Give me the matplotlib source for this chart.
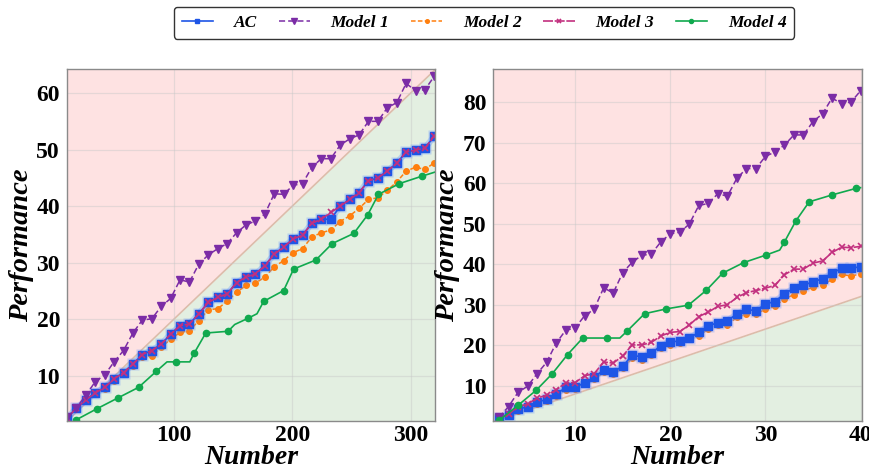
import numpy as np
import matplotlib.pyplot as plt

plt.rcParams['font.family'] = ['Liberation Serif', 'DejaVu Serif']
plt.rcParams['font.weight'] = 'bold'

# ---------- datos: panel izquierdo ----------
x_izq = np.linspace(10, 320, 40)
ac_izq = [2.6, 4.3, 5.8, 7.0, 8.0, 9.5, 10.6, 12.1, 13.8, 14.5,
          15.6, 17.4, 18.9, 19.2, 21.0, 23.0, 23.9, 24.5, 26.5, 27.5,
          28.0, 29.5, 31.5, 32.8, 34.2, 34.9, 37.0, 37.7, 37.7, 40.0,
          41.2, 42.4, 44.5, 45.0, 46.2, 47.6, 49.6, 49.9, 50.3, 52.4]
m1_izq = [2.7, 4.4, 6.6, 9.0, 10.2, 12.5, 14.5, 17.6, 19.9, 20.1,
          22.3, 23.7, 27.0, 26.6, 29.8, 31.4, 32.5, 33.4, 35.3, 36.7,
          37.4, 38.6, 42.2, 42.1, 43.7, 44.0, 46.9, 48.4, 48.4, 50.8,
          51.9, 52.6, 55.0, 55.0, 57.4, 58.3, 61.7, 60.4, 60.6, 63.0]
m2_izq = [2.6, 4.2, 5.6, 6.9, 7.7, 9.2, 10.3, 11.8, 13.4, 13.6,
          15.1, 16.5, 17.7, 18.0, 19.8, 21.7, 21.9, 23.2, 24.8, 26.0,
          26.4, 27.5, 29.3, 30.4, 31.8, 32.5, 34.6, 35.3, 35.8, 37.3,
          38.3, 39.6, 41.2, 41.5, 42.8, 44.3, 46.2, 46.9, 46.5, 47.7]
m3_izq = [2.6, 4.3, 5.8, 7.0, 8.0, 9.5, 10.6, 12.1, 13.8, 14.5,
          15.6, 17.4, 18.9, 19.2, 21.0, 23.0, 23.9, 24.5, 26.5, 27.5,
          28.0, 29.5, 31.5, 32.8, 34.2, 34.9, 37.0, 37.7, 38.9, 40.0,
          41.2, 42.4, 44.5, 45.0, 46.2, 47.6, 49.6, 49.9, 50.3, 52.4]
m4_x_izq = [17.2, 35.1, 52.7, 70.4, 85.2, 94.4, 101.7, 113.6, 117.2, 127.1,
            145.9, 151.5, 162.7, 170.3, 176.0, 192.8, 201.2, 220.0, 233.8, 252.0,
            263.8, 272.8, 290.5, 309.3, 320.0]
m4_izq = [2.2, 4.2, 6.1, 8.0, 10.8, 12.5, 12.5, 12.5, 14.0, 17.6,
          17.9, 19.1, 20.2, 21.0, 23.2, 25.1, 28.9, 30.5, 33.4, 35.2,
          38.5, 42.1, 44.0, 45.3, 46.0]
m4_marcas_izq = [0, 1, 2, 3, 4, 6, 8, 9, 10, 12, 14, 15, 16, 17, 18, 19, 20, 21, 22, 23]

# ---------- datos: panel derecho ----------
x_der = np.arange(2, 41)
ac_der = [2.0, 2.9, 4.2, 4.9, 5.9, 6.7, 7.9, 9.6, 9.6, 10.8,
          12.1, 13.9, 13.5, 14.8, 17.6, 17.1, 18.0, 19.9, 20.8, 21.1,
          21.8, 23.2, 24.8, 25.6, 26.1, 27.7, 28.9, 28.5, 30.2, 30.8,
          32.7, 34.1, 34.8, 35.7, 36.4, 37.8, 39.0, 39.0, 39.4]
m1_der = [2.2, 4.9, 8.4, 9.9, 13.0, 15.8, 20.5, 23.7, 24.3, 27.3,
          28.9, 34.2, 32.9, 37.9, 40.5, 42.2, 42.5, 45.5, 47.5, 47.9,
          49.9, 54.5, 55.0, 57.4, 56.8, 61.2, 63.6, 63.6, 66.6, 67.7,
          69.4, 71.9, 71.9, 75.2, 77.1, 81.0, 79.6, 80.0, 82.8]
m2_der = [1.9, 2.7, 3.9, 4.6, 5.5, 6.3, 7.5, 9.1, 9.2, 10.4,
          11.6, 13.3, 13.0, 14.3, 16.9, 16.4, 17.5, 19.3, 20.1, 20.5,
          21.5, 22.4, 24.0, 25.0, 25.0, 26.9, 27.7, 27.7, 28.9, 29.6,
          31.5, 32.5, 33.5, 34.3, 34.8, 36.3, 37.5, 37.1, 37.6]
m3_der = [2.0, 3.0, 4.9, 5.5, 7.0, 7.7, 9.0, 10.7, 10.8, 12.5,
          13.0, 15.9, 15.6, 17.4, 20.1, 20.1, 20.7, 22.3, 23.2, 23.4,
          25.0, 27.1, 28.2, 29.6, 30.0, 31.8, 33.0, 33.5, 34.1, 34.8,
          37.4, 38.8, 38.8, 40.3, 40.8, 42.9, 44.2, 44.1, 44.4]
m4_x_der = [2.0, 4.0, 5.9, 7.6, 9.2, 10.8, 13.3, 14.7, 15.5, 17.3,
            19.6, 21.9, 23.8, 25.5, 27.7, 30.1, 31.5, 32.0, 33.2, 34.6,
            37.0, 39.5, 40.0]
m4_der = [1.5, 5.2, 8.9, 13.0, 17.7, 21.8, 21.8, 21.8, 23.6, 27.8,
          29.0, 29.9, 33.6, 37.8, 40.4, 42.3, 43.5, 45.5, 50.7, 55.4,
          57.1, 58.7, 58.9]
m4_marcas_der = [0, 1, 2, 3, 4, 5, 6, 8, 9, 10, 11, 12, 13, 14, 15, 17, 18, 19, 20, 21]

# pendiente de la frontera y limites de cada panel
pendiente = [0.2, 0.8]
lim_x = [(10, 320.5), (1.4, 40.15)]
lim_y = [(2.1, 64.2), (1.4, 88.1)]
ticks_x = [[100, 200, 300], [10, 20, 30, 40]]
ticks_y = [[10, 20, 30, 40, 50, 60], [10, 20, 30, 40, 50, 60, 70, 80]]

fig = plt.figure(figsize=(8.7, 4.68), dpi=100)
ax1 = fig.add_axes([0.077, 0.101, 0.423, 0.751])
ax2 = fig.add_axes([0.567, 0.101, 0.4238, 0.751])

paneles = [
    (ax1, x_izq, ac_izq, m1_izq, m2_izq, m3_izq, m4_x_izq, m4_izq, m4_marcas_izq),
    (ax2, x_der, ac_der, m1_der, m2_der, m3_der, m4_x_der, m4_der, m4_marcas_der),
]

for i, (ax, x, ac, m1, m2, m3, x4, m4, marcas4) in enumerate(paneles):
    x0, x1 = lim_x[i]
    y0, y1 = lim_y[i]
    xs = np.array([x0, x1])
    frontera = pendiente[i] * xs
    # regiones de fondo
    ax.fill_between(xs, y0, frontera, color='#e3efe1', lw=0, zorder=0.2)
    ax.fill_between(xs, frontera, y1 + 50, color='#fee2e2', lw=0, zorder=0.2)
    ax.plot(xs, frontera, color='#dcbcaa', lw=1.2, zorder=0.3)

    # AC con halo
    ax.plot(x, ac, color='#5b8cff', lw=4.5, alpha=0.3, marker='s', ms=8,
            mec='none', zorder=2.15)
    ax.plot(x, ac, color='#1e55e6', lw=1.2, marker='s', ms=5.5, mec='#1e55e6',
            zorder=2.2, label='AC')
    ax.plot(x, m1, color='#7b2ca6', lw=1.1, ls=(0, (4, 2)), marker='v', ms=6,
            zorder=2.4, label='Model 1')
    ax.plot(x, m2, color='#ff7f0e', lw=1.1, ls=(0, (3, 1.5)), marker='o', ms=4,
            zorder=2.1, label='Model 2')
    ax.plot(x, m3, color='#c2307f', lw=1.2, ls=(0, (6, 1)), marker='x', ms=5,
            mew=1.2, zorder=2.3, label='Model 3')
    ax.plot(x4, m4, color='#10a94e', lw=1.2, marker='o', ms=4.5,
            markevery=marcas4, zorder=2.5, label='Model 4')

    ax.set_xlim(x0, x1)
    ax.set_ylim(y0, y1)
    ax.set_xticks(ticks_x[i])
    ax.set_yticks(ticks_y[i])
    ax.grid(True, color='#c8c8c8', alpha=0.45, lw=0.9)
    ax.tick_params(axis='x', length=0, labelsize=17, pad=3)
    ax.tick_params(axis='y', length=0, labelsize=17, pad=5)
    for lab in ax.get_xticklabels() + ax.get_yticklabels():
        lab.set_fontweight('bold')
    for sp in ax.spines.values():
        sp.set_color('#8a8a8a')
        sp.set_linewidth(1.0)
    ax.set_xlabel('Number', fontsize=20, fontweight='bold', fontstyle='italic',
                  labelpad=-1)
    ax.set_ylabel('Performance', fontsize=20.5, fontweight='bold', fontstyle='italic',
                  labelpad=2)

handles, labels = ax1.get_legend_handles_labels()
fig.legend(handles, labels, loc='upper center', ncol=5, mode='expand',
           bbox_to_anchor=(0.2, 0.919, 0.713, 0.066), borderaxespad=0,
           prop={'family': 'Liberation Serif', 'weight': 'bold', 'style': 'italic', 'size': 12.5},
           frameon=True, fancybox=True, edgecolor='#333333', framealpha=1,
           handlelength=1.8, handletextpad=1.2, borderpad=0.45, markerscale=0.65)

plt.savefig('out.png', dpi=100)
